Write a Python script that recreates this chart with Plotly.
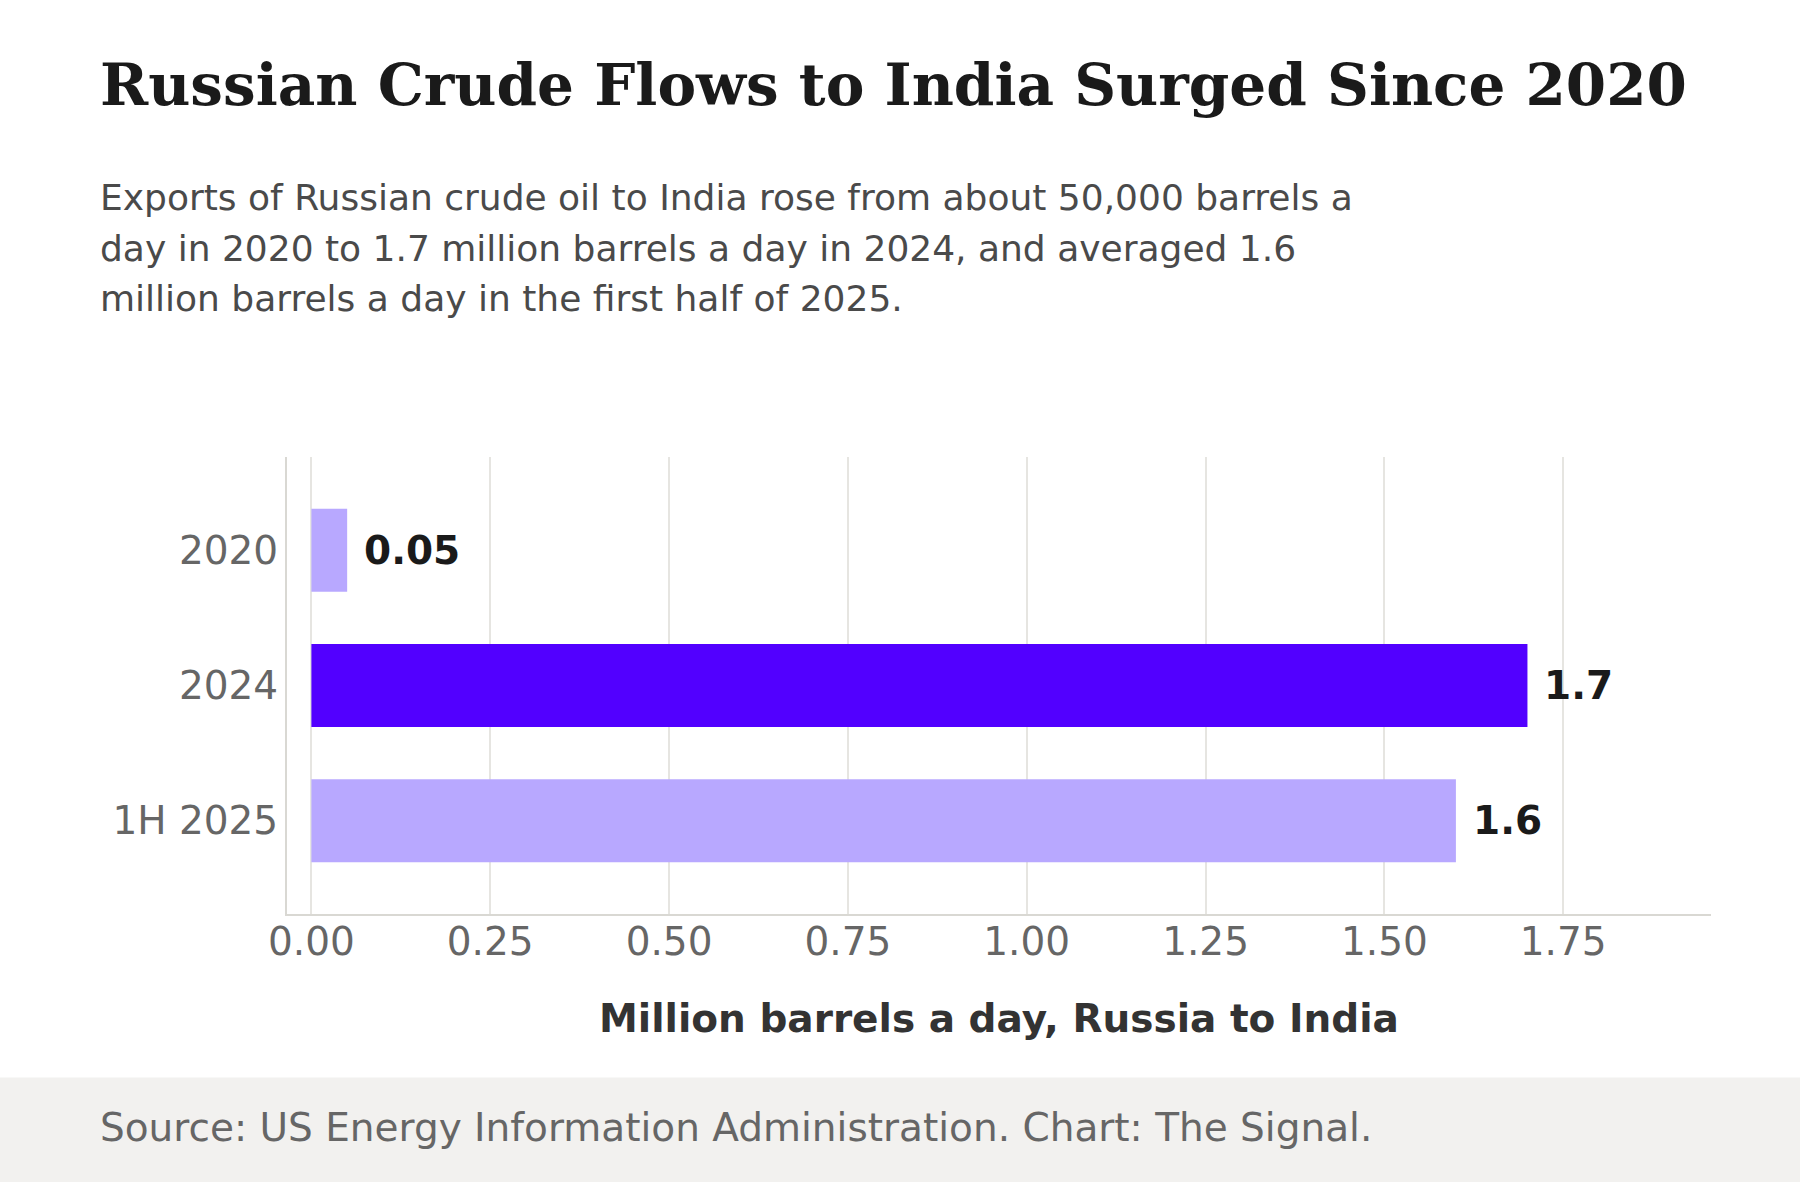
import plotly.graph_objects as go

categories = ["2020", "2024", "1H 2025"]
values = [0.05, 1.7, 1.6]
label_texts = ["0.05", "1.7", "1.6"]
bar_colors = ["#B8A8FF", "#5200FF", "#B8A8FF"]
x_tickvals = [0, 0.25, 0.5, 0.75, 1.0, 1.25, 1.5, 1.75]
x_ticktext = ["0.00", "0.25", "0.50", "0.75", "1.00", "1.25", "1.50", "1.75"]

title_text = "Russian Crude Flows to India Surged Since 2020"
subtitle_lines = [
    "Exports of Russian crude oil to India rose from about 50,000 barrels a",
    "day in 2020 to 1.7 million barrels a day in 2024, and averaged 1.6",
    "million barrels a day in the first half of 2025.",
]
x_title = "Million barrels a day, Russia to India"
source_text = "Source: US Energy Information Administration. Chart: The Signal."

W, H = 1800, 1182
L, R, T, B = 287, 89, 457, 268
PW = W - L - R
PH = H - T - B


def px_x(px):
    return (px - L) / PW


def px_y(py):
    return (H - B - py) / PH


SANS = "DejaVu Sans"
SERIF = "DejaVu Serif"

fig = go.Figure()
fig.add_trace(go.Bar(
    y=categories,
    x=values,
    orientation="h",
    marker=dict(color=bar_colors, line=dict(width=0)),
    width=0.613,
    hoverinfo="skip",
))

annotations = []
for idx, (val, txt) in enumerate(zip(values, label_texts)):
    annotations.append(dict(
        x=val, y=idx, xref="x", yref="y", text=txt, showarrow=False,
        xanchor="left", yanchor="middle", xshift=15,
        font=dict(family=SANS, size=39, color="#1a1a1a", weight="bold"),
    ))

annotations.append(dict(
    x=px_x(98), y=px_y(85), xref="paper", yref="paper", text=title_text,
    showarrow=False, xanchor="left", yanchor="middle",
    font=dict(family=SERIF, size=58, color="#1a1a1a", weight="bold"),
))
for line, cy in zip(subtitle_lines, [197.5, 248, 298.5]):
    annotations.append(dict(
        x=px_x(98), y=px_y(cy), xref="paper", yref="paper", text=line,
        showarrow=False, xanchor="left", yanchor="middle",
        font=dict(family=SANS, size=36, color="#4a4a4a"),
    ))
annotations.append(dict(
    x=0.5, y=px_y(1018), xref="paper", yref="paper", text=x_title,
    showarrow=False, xanchor="center", yanchor="middle",
    font=dict(family=SANS, size=39, color="#333333", weight="bold"),
))
annotations.append(dict(
    x=px_x(98), y=px_y(1127), xref="paper", yref="paper", text=source_text,
    showarrow=False, xanchor="left", yanchor="middle",
    font=dict(family=SANS, size=39, color="#666666"),
))

shapes = [dict(
    type="rect", xref="paper", yref="paper",
    x0=px_x(-5), x1=px_x(W + 5), y0=px_y(1077.5), y1=px_y(H + 10),
    fillcolor="#F2F1EF", line=dict(width=0), layer="below",
)]

fig.update_layout(
    width=W, height=H,
    margin=dict(l=L, r=R, t=T, b=B, pad=0),
    paper_bgcolor="white", plot_bgcolor="white",
    showlegend=False,
    annotations=annotations,
    shapes=shapes,
    bargap=0.3,
)
fig.update_xaxes(
    range=[-0.0341, 1.9566],
    tickvals=x_tickvals, ticktext=x_ticktext,
    showgrid=True, gridcolor="#E6E5E1", gridwidth=1.5,
    showline=True, linecolor="#D9D8D3", linewidth=2,
    zeroline=False, ticks="", ticklabelstandoff=-8,
    tickfont=dict(family=SANS, size=39, color="#666666"),
)
fig.update_yaxes(
    type="category", categoryorder="array", categoryarray=categories,
    range=[2.69, -0.69],
    showgrid=False,
    showline=True, linecolor="#D9D8D3", linewidth=2,
    zeroline=False, ticks="", ticklabelstandoff=-1,
    tickfont=dict(family=SANS, size=39, color="#666666"),
)

fig.write_html("out.html")
